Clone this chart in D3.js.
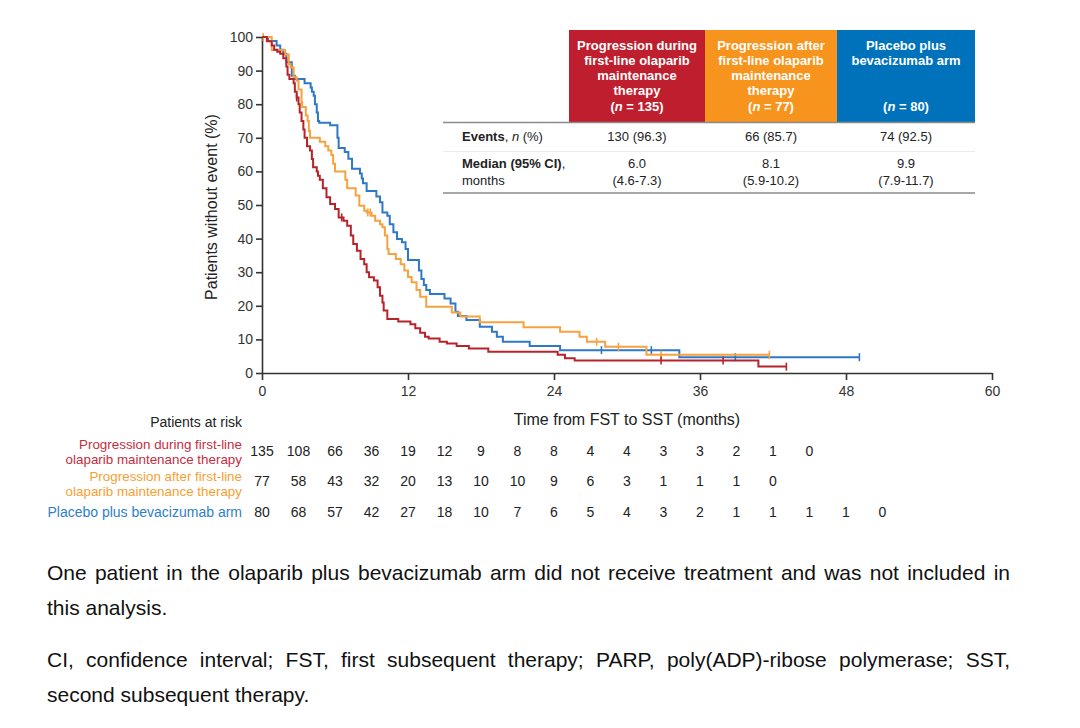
<!DOCTYPE html>
<html>
<head>
<meta charset="utf-8">
<script src="https://cdnjs.cloudflare.com/ajax/libs/d3/7.8.5/d3.min.js"></script>
<style>
  body { margin: 0; background: #fff; }
  svg text { font-family: 'Liberation Sans', Arial, sans-serif; }
  .axis path, .axis line { stroke: #333; stroke-width: 1.6; }
  .axis text { font-size: 14px; fill: #333; font-family: 'Liberation Sans', Arial, sans-serif; }
</style>
</head>
<body>
<div id="plot-container"></div>
<script>
// Kaplan-Meier steps: month of each drop and % without event after it
var redTime = [0.4, 0.8, 1.0, 1.25, 1.5, 1.75, 2.0, 2.1, 2.25, 2.6, 2.7, 2.85, 3.0, 3.1, 3.25, 3.4, 3.5, 3.7, 3.95, 4.1, 4.2, 4.5, 4.6, 4.75, 5.0, 5.3, 5.6, 6.0, 6.3, 6.7, 7.0, 7.3, 7.5, 7.8, 8.1, 8.4, 8.6, 8.8, 9.2, 9.5, 9.7, 9.9, 10.0, 10.3, 11.2, 12.2, 12.6, 13.0, 13.4, 13.7, 14.6, 15.2, 16.0, 17.0, 18.6, 24.3, 24.9, 25.7, 40.8];
var redSurv = [98.7, 97.5, 96.2, 95.6, 95.0, 93.7, 91.2, 88.8, 87.5, 86.2, 83.7, 82.0, 80.0, 77.5, 75.0, 72.5, 70.0, 67.5, 66.2, 63.7, 61.2, 60.0, 58.7, 57.5, 55.0, 52.3, 50.3, 48.8, 46.3, 45.3, 43.8, 40.9, 38.4, 36.4, 33.9, 32.4, 30.0, 28.5, 27.5, 25.5, 23.0, 21.0, 18.6, 16.1, 15.3, 14.5, 13.3, 12.0, 10.8, 10.3, 9.3, 8.8, 8.0, 7.3, 6.3, 5.4, 4.4, 3.7, 1.9];
var redCensor = [2.85, 6.55, 32.8, 37.9, 43.1];
var redEnd = 43.1;

var orangeTime = [0.8, 1.9, 2.2, 2.35, 2.6, 2.85, 3.0, 3.25, 3.3, 3.6, 3.75, 3.85, 3.95, 4.75, 5.2, 5.45, 5.7, 5.85, 6.0, 6.85, 7.0, 7.7, 8.0, 8.4, 8.6, 9.0, 9.3, 9.7, 9.9, 10.1, 10.3, 10.4, 11.0, 11.4, 11.7, 12.0, 12.3, 12.7, 13.0, 13.5, 15.6, 16.3, 17.9, 21.5, 24.5, 26.1, 26.7, 28.2, 31.6];
var orangeSurv = [96.1, 94.8, 92.0, 90.9, 88.0, 87.0, 84.4, 80.5, 79.2, 76.6, 75.0, 72.0, 70.0, 68.8, 67.5, 66.2, 64.9, 62.3, 60.0, 57.5, 55.0, 52.8, 49.8, 48.3, 47.8, 46.8, 45.3, 44.3, 43.4, 40.9, 36.9, 35.4, 33.9, 32.4, 30.5, 28.6, 27.0, 24.7, 22.7, 19.7, 18.0, 16.8, 15.1, 13.6, 12.3, 10.8, 9.3, 7.8, 5.4];
var orangeCensor = [0.1, 8.7, 8.9, 27.5, 29.3, 32.8, 41.7];
var orangeEnd = 41.7;

var blueTime = [0.5, 1.2, 1.5, 1.75, 2.0, 2.45, 2.7, 3.5, 4.0, 4.1, 4.25, 4.35, 4.5, 4.6, 4.7, 5.6, 6.2, 6.3, 6.8, 7.1, 7.4, 8.05, 8.2, 8.3, 8.6, 9.4, 9.7, 9.9, 10.3, 10.5, 10.8, 11.1, 11.5, 11.8, 12.0, 12.9, 13.1, 13.3, 13.5, 13.8, 15.0, 15.5, 15.9, 16.1, 16.8, 17.9, 18.9, 19.3, 19.8, 22.0, 24.5, 34.3];
var blueSurv = [98.8, 97.5, 96.2, 95.0, 92.5, 88.5, 87.5, 86.2, 85.0, 83.7, 82.5, 80.0, 77.5, 75.0, 74.5, 73.7, 70.0, 67.0, 65.8, 63.8, 60.8, 59.4, 57.9, 56.5, 54.2, 52.5, 50.8, 47.8, 46.8, 44.3, 41.9, 39.9, 38.9, 36.9, 33.6, 30.5, 28.0, 26.2, 24.7, 23.5, 22.2, 20.7, 18.2, 17.0, 15.8, 13.8, 12.3, 10.8, 9.3, 8.0, 6.8, 4.7];
var blueCensor = [27.9, 32.0, 38.9, 49.1];
var blueEnd = 49.1;

// Patients at risk, every 3 months
var riskTimes = [0, 3, 6, 9, 12, 15, 18, 21, 24, 27, 30, 33, 36, 39, 42, 45, 48, 51];
var redRisk = [135, 108, 66, 36, 19, 12, 9, 8, 8, 4, 4, 3, 3, 2, 1, 0];
var orangeRisk = [77, 58, 43, 32, 20, 13, 10, 10, 9, 6, 3, 1, 1, 1, 0];
var blueRisk = [80, 68, 57, 42, 27, 18, 10, 7, 6, 5, 4, 3, 2, 1, 1, 1, 1, 0];

// Summary table
var armHeaders = [
  ['Progression during', 'first-line olaparib', 'maintenance', 'therapy'],
  ['Progression after', 'first-line olaparib', 'maintenance', 'therapy'],
  ['Placebo plus', 'bevacizumab arm', '', '']
];
var armN = [135, 77, 80];
var events = ['130 (96.3)', '66 (85.7)', '74 (92.5)'];
var medians = ['6.0', '8.1', '9.9'];
var medianCI = ['(4.6-7.3)', '(5.9-10.2)', '(7.9-11.7)'];

var riskLabels = [
  ['Progression during first-line', 'olaparib maintenance therapy'],
  ['Progression after first-line', 'olaparib maintenance therapy'],
  ['Placebo plus bevacizumab arm']
];

var xTicks = [0, 12, 24, 36, 48, 60];
var yTicks = [0, 10, 20, 30, 40, 50, 60, 70, 80, 90, 100];

var footLines = [
  {text: 'One patient in the olaparib plus bevacizumab arm did not receive treatment and was not included in', justify: true},
  {text: 'this analysis.', justify: false},
  {text: 'CI, confidence interval; FST, first subsequent therapy; PARP, poly(ADP)-ribose polymerase; SST,', justify: true},
  {text: 'second subsequent therapy.', justify: false}
];

// layout
var totalWidth = 1080, totalHeight = 728;
var plot = {left: 262, right: 992, top: 37, bottom: 373};
var lineColors = ['#b8232b', '#f6a23f', '#2f78c6'];
var boxColors = ['#be1e2d', '#f7941d', '#0072bc'];
var textColors = ['#c62d3f', '#f7a032', '#2e7fc8'];
var colEdges = [569, 705, 837, 975];

var arms = [
  {time: redTime, surv: redSurv, censor: redCensor, end: redEnd, risk: redRisk},
  {time: orangeTime, surv: orangeSurv, censor: orangeCensor, end: orangeEnd, risk: orangeRisk},
  {time: blueTime, surv: blueSurv, censor: blueCensor, end: blueEnd, risk: blueRisk}
];

var xScale = d3.scaleLinear().domain([0, 60]).range([plot.left, plot.right]);
var yScale = d3.scaleLinear().domain([0, 100]).range([plot.bottom, plot.top]);
var line = d3.line().curve(d3.curveStepAfter).x(function(d) { return xScale(d[0]); }).y(function(d) { return yScale(d[1]); });

var svg = d3.select('#plot-container').append('svg').attr('width', totalWidth).attr('height', totalHeight);

// axes
svg.append('g').attr('class', 'axis').attr('transform', 'translate(' + [plot.left, 0] + ')')
  .call(d3.axisLeft(yScale).tickValues(yTicks).tickSize(6).tickSizeOuter(0).tickPadding(3));
svg.append('g').attr('class', 'axis').attr('transform', 'translate(' + [0, plot.bottom] + ')')
  .call(d3.axisBottom(xScale).tickValues(xTicks).tickSize(7).tickSizeOuter(0).tickPadding(6));

svg.append('text').attr('transform', 'translate(217,207) rotate(-90)').attr('text-anchor', 'middle')
  .style('font-size', '16px').style('fill', '#222').text('Patients without event (%)');
svg.append('text').attr('x', xScale(30)).attr('y', 424.5).attr('text-anchor', 'middle')
  .style('font-size', '16px').style('fill', '#222').text('Time from FST to SST (months)');

// curves
function survAt(arm, t) {
  var i = d3.bisectRight(arm.time, t);
  return i === 0 ? 100 : arm.surv[i - 1];
}
var curves = svg.append('g');
arms.forEach(function(arm, k) {
  var pts = [[0, 100]].concat(arm.time.map(function(t, i) { return [t, arm.surv[i]]; }));
  pts.push([arm.end, arm.surv[arm.surv.length - 1]]);
  arm.points = pts;
});
[2, 1, 0].forEach(function(k) {
  var arm = arms[k];
  var g = curves.append('g');
  g.append('path').attr('d', line(arm.points)).attr('fill', 'none')
    .attr('stroke', lineColors[k]).attr('stroke-width', 2).attr('stroke-linejoin', 'miter');
  g.selectAll('line.censor').data(arm.censor).enter().append('line').attr('class', 'censor')
    .attr('x1', function(d) { return xScale(d); }).attr('x2', function(d) { return xScale(d); })
    .attr('y1', function(d) { return yScale(survAt(arm, d)) - 4; })
    .attr('y2', function(d) { return yScale(survAt(arm, d)) + 4; })
    .attr('stroke', lineColors[k]).attr('stroke-width', 1.6);
});

// summary table
var table = svg.append('g');
table.selectAll('rect.head').data(boxColors).enter().append('rect').attr('class', 'head')
  .attr('x', function(d, i) { return colEdges[i]; }).attr('y', 30)
  .attr('width', function(d, i) { return colEdges[i + 1] - colEdges[i]; }).attr('height', 92)
  .attr('fill', function(d) { return d; });
var colCenter = function(i) { return (colEdges[i] + colEdges[i + 1]) / 2; };
armHeaders.forEach(function(lines, i) {
  lines.forEach(function(s, j) {
    table.append('text').attr('x', colCenter(i)).attr('y', 49.5 + j * 15.3).attr('text-anchor', 'middle')
      .style('font-size', '13px').style('font-weight', 'bold').style('fill', '#fff').text(s);
  });
  var t = table.append('text').attr('x', colCenter(i)).attr('y', 49.5 + 4 * 15.3).attr('text-anchor', 'middle')
    .style('font-size', '13px').style('font-weight', 'bold').style('fill', '#fff');
  t.append('tspan').text('(');
  t.append('tspan').style('font-style', 'italic').text('n');
  t.append('tspan').text(' = ' + armN[i] + ')');
});
table.append('line').attr('x1', 443).attr('x2', 975).attr('y1', 122.5).attr('y2', 122.5).attr('stroke', '#8a8a8a').attr('stroke-width', 1.5);
table.append('line').attr('x1', 443).attr('x2', 975).attr('y1', 151.5).attr('y2', 151.5).attr('stroke', '#ececec').attr('stroke-width', 1);
table.append('line').attr('x1', 443).attr('x2', 975).attr('y1', 193).attr('y2', 193).attr('stroke', '#8a8a8a').attr('stroke-width', 1.5);

var ev = table.append('text').attr('x', 462).attr('y', 141).style('font-size', '13px').style('fill', '#222');
ev.append('tspan').style('font-weight', 'bold').text('Events');
ev.append('tspan').text(', ');
ev.append('tspan').style('font-style', 'italic').text('n');
ev.append('tspan').text(' (%)');
var md = table.append('text').attr('x', 462).attr('y', 167.5).style('font-size', '13px').style('fill', '#222');
md.append('tspan').style('font-weight', 'bold').text('Median (95% CI)');
md.append('tspan').text(',');
table.append('text').attr('x', 462).attr('y', 184.5).style('font-size', '13px').style('fill', '#222').text('months');

[events, medians, medianCI].forEach(function(row, r) {
  table.selectAll(null).data(row).enter().append('text')
    .attr('x', function(d, i) { return colCenter(i); }).attr('y', [141, 167.5, 184.5][r])
    .attr('text-anchor', 'middle').style('font-size', '13px').style('fill', '#222').text(function(d) { return d; });
});

// patients at risk
var risk = svg.append('g').style('font-size', '14px');
risk.append('text').attr('x', 242).attr('y', 426.7).attr('text-anchor', 'end').style('fill', '#222').text('Patients at risk');
var labelBase = [449, 481, 516.7];
var numberBase = [456, 486, 516.7];
riskLabels.forEach(function(lines, k) {
  // two-line labels: slightly smaller so the lines don't collide
  lines.forEach(function(s, j) {
    risk.append('text').attr('x', 242).attr('y', labelBase[k] + j * 15).attr('text-anchor', 'end')
      .style('font-size', lines.length > 1 ? '13.4px' : '14px').style('fill', textColors[k]).text(s);
  });
  risk.selectAll(null).data(arms[k].risk).enter().append('text')
    .attr('x', function(d, i) { return xScale(riskTimes[i]); }).attr('y', numberBase[k])
    .attr('text-anchor', 'middle').style('fill', '#222').text(function(d) { return d; });
});

// footnotes, justified like the source page
var foot = svg.append('g').style('font-size', '21px').style('fill', '#111');
var footBase = [580, 615, 667, 702];
var footLeft = 47, footRight = 1010;
footLines.forEach(function(fl, i) {
  var t = foot.append('text').attr('y', footBase[i]);
  if (!fl.justify) { t.attr('x', footLeft).text(fl.text); return; }
  var words = fl.text.split(' ');
  var spans = words.map(function(w) { return t.append('tspan').text(w); });
  var widths = spans.map(function(s) { return s.node().getComputedTextLength(); });
  var gap = (footRight - footLeft - d3.sum(widths)) / (words.length - 1);
  var cx = footLeft;
  spans.forEach(function(s, j) { s.attr('x', cx); cx += widths[j] + gap; });
});
</script>
</body>
</html>
